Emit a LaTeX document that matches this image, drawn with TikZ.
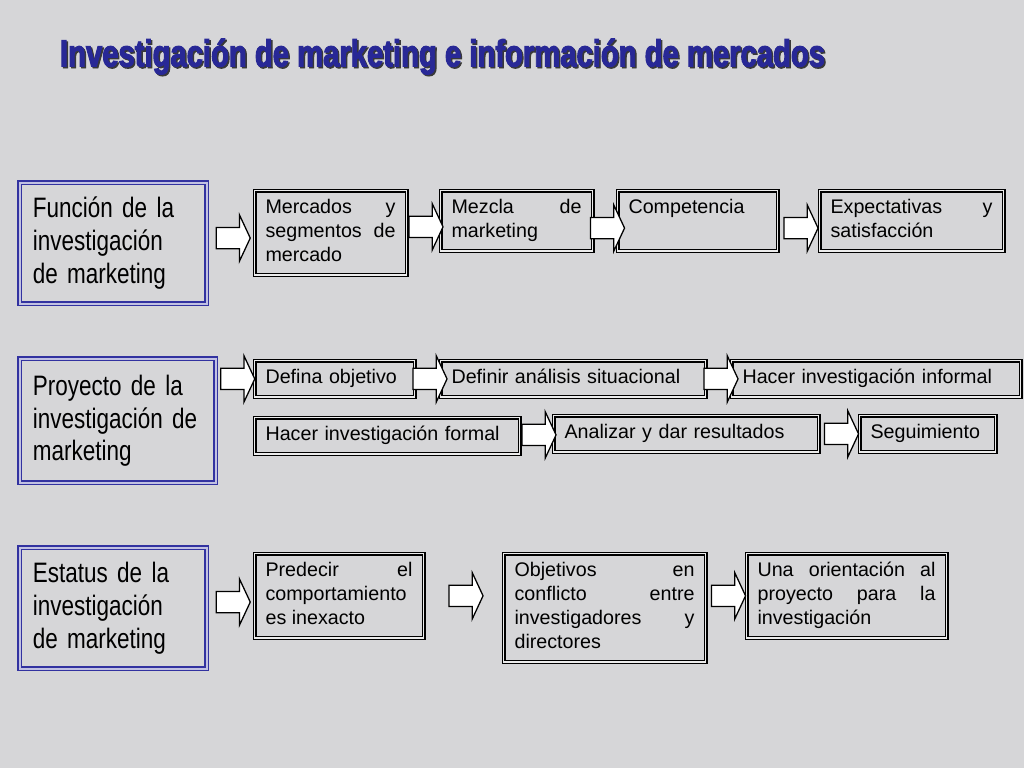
\documentclass[tikz,border=0pt]{standalone}
\usepackage{fontspec}
\setmainfont{Liberation Sans}
\newfontfamily\headfont[FakeStretch=0.80]{Liberation Sans}
\newfontfamily\titlefont[FakeStretch=0.77,FakeBold=2.5]{Liberation Sans}
\usepackage{tikz}
\usetikzlibrary{shapes.arrows, positioning, calc}
\hyphenpenalty=10000
\exhyphenpenalty=10000
\definecolor{tituloazul}{RGB}{40,40,150}
\definecolor{bordeazul}{RGB}{50,50,160}
\definecolor{fondo}{RGB}{214,214,216}

\begin{document}
\begin{tikzpicture}[x=0.25mm,y=-0.25mm,
  headbox/.style={rectangle, draw=bordeazul, double=bordeazul!30!white, line width=1.1pt, double distance=1.4pt, align=left, inner xsep=3.25mm, inner ysep=0pt, anchor=north west, font=\headfont\fontsize{20pt}{23.4pt}\selectfont},
  stepbox/.style={rectangle, draw=black, double=white!85!gray, line width=0.8pt, double distance=1.2pt, align=justify, inner xsep=2.75mm, inner ysep=1.6mm, anchor=north west, font=\fontsize{14pt}{17pt}\selectfont, execute at begin node=\strut, execute at end node=\strut},
  rowbox/.style={stepbox, align=left},
  flecha/.style={single arrow, draw=black, fill=white, line width=0.9pt, minimum height=8.5mm, inner sep=2.5mm, single arrow head extend=3.125mm, single arrow tip angle=130}]

\useasboundingbox[fill=fondo] (0,0) rectangle (1024,768);

% Title
\node[anchor=base west, text=gray!45!black, font=\titlefont\bfseries\fontsize{27pt}{31pt}\selectfont] (sombra) at (56.5,68) {Investigación de marketing e información de mercados};
\node[anchor=base west, text=tituloazul, font=\titlefont\bfseries\fontsize{27pt}{31pt}\selectfont] (titulo) at (55,66.5) {Investigación de marketing e información de mercados};

% Left boxes
\node[headbox, minimum width=46.75mm, minimum height=30.25mm, text width=40.25mm] (funcion) at (19,182) {Función de la\\investigación\\de marketing};
\node[headbox, minimum width=49mm, minimum height=31mm, text width=42.5mm] (proyecto) at (19,358) {Proyecto de la\\investigación de\\marketing};
\node[headbox, minimum width=46.75mm, minimum height=30.25mm, text width=40.25mm] (estatus) at (19,547) {Estatus de la\\investigación\\de marketing};

% Function row
\node[stepbox, text width=32.5mm] (mercados) at (254,190) {Mercados y segmentos de mercado};
\node[stepbox, text width=32.5mm] (mezcla) at (440,190) {Mezcla de marketing};
\node[stepbox, text width=34.5mm] (competencia) at (617,190) {Competencia\\\mbox{}};
\node[stepbox, text width=40.5mm] (expectativas) at (819,190) {Expectativas y satisfacción};

% Project rows
\node[rowbox, text width=34.5mm] (objetivo) at (254,360) {Defina objetivo};
\node[rowbox, text width=60.75mm] (situacional) at (440,360) {Definir análisis situacional};
\node[rowbox, text width=66.75mm] (informal) at (731,360) {Hacer investigación informal};
\node[rowbox, text width=60.75mm] (formal) at (254,417) {Hacer investigación formal};
\node[rowbox, text width=60.75mm] (resultados) at (553,415) {Analizar y dar resultados};
\node[rowbox, text width=28.5mm] (seguimiento) at (859,415) {Seguimiento};

% Status row
\node[stepbox, text width=36.75mm] (predecir) at (254,553) {Predecir el comportamiento es inexacto};
\node[stepbox, text width=45mm] (conflicto) at (503,553) {Objetivos en conflicto entre investigadores y directores};
\node[stepbox, text width=44.5mm] (orientacion) at (746,553) {Una orientación al proyecto para la investigación};

% Arrows
\path (funcion.east) -- (mercados.west) node[flecha, midway] (f1) {};
\path (mercados.east) -- (mezcla.west) node[flecha, midway] (f2) {};
\path (mezcla.east) -- (competencia.west) node[flecha, midway, yshift=-1.8mm] (f3) {};
\path (competencia.east) -- (expectativas.west) node[flecha, midway, yshift=-1.8mm] (f4) {};

\path (proyecto.east |- objetivo.west) -- (objetivo.west) node[flecha, midway] (f5) {};
\path (objetivo.east) -- (situacional.west) node[flecha, midway] (f6) {};
\path (situacional.east) -- (informal.west) node[flecha, midway] (f7) {};
\path (formal.east) -- (resultados.west) node[flecha, midway] (f8) {};
\path (resultados.east) -- (seguimiento.west) node[flecha, midway] (f9) {};

\path (estatus.east) -- (predecir.west) node[flecha, midway] (f10) {};
\path (predecir.east) -- (conflicto.west |- predecir.east) node[flecha, midway] (f11) {};
\path (conflicto.east |- orientacion.west) -- (orientacion.west) node[flecha, midway] (f12) {};
\end{tikzpicture}
\end{document}
